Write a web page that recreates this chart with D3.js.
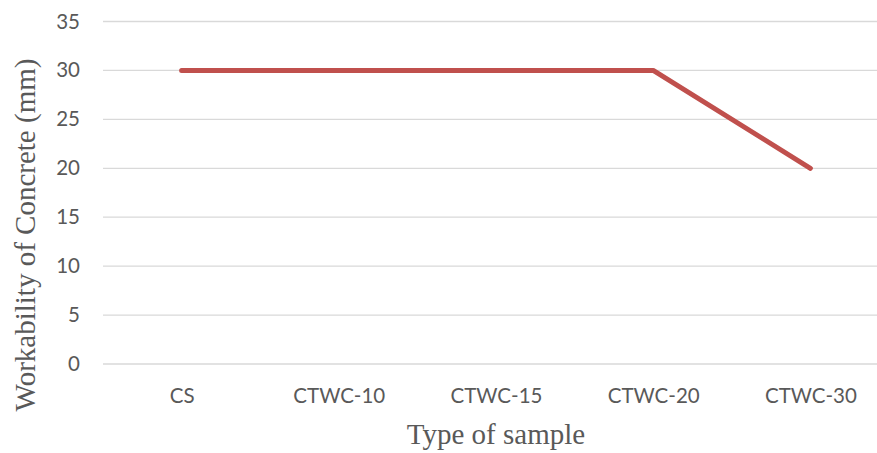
<!DOCTYPE html>
<html><head><meta charset="utf-8">
<script src="https://cdn.jsdelivr.net/npm/d3@7"></script>
<style>body{margin:0;background:#fff}svg{display:block}</style>
</head><body>
<svg id="c" width="877" height="453"></svg>
<script>
const categories = ["CS","CTWC-10","CTWC-15","CTWC-20","CTWC-30"];
const workability = [30,30,30,30,20];
const yTicks = [0,5,10,15,20,25,30,35];

const svg = d3.select("#c");
const x = d3.scalePoint().domain(categories).range([103,889]).padding(0.5);
const y = d3.scaleLinear().domain([0,35]).range([364,21.5]);
const tickFont = "Lato, 'Open Sans', sans-serif";

const grid = svg.append("g");
grid.selectAll("line").data(yTicks).enter().append("line")
  .attr("x1",103).attr("x2",877)
  .attr("y1",d=>y(d)).attr("y2",d=>y(d))
  .attr("stroke","#d9d9d9").attr("stroke-width",1.3);

const yAxis = svg.append("g").attr("transform","translate(80,0)")
  .call(d3.axisLeft(y).tickValues(yTicks).tickSize(0).tickPadding(0));
yAxis.select(".domain").remove();
yAxis.selectAll("text").attr("font-family",tickFont).attr("font-size","20.5px").attr("fill","#595959");

const xAxis = svg.append("g").attr("transform","translate(0,364)")
  .call(d3.axisBottom(x).tickSize(0));
xAxis.select(".domain").remove();
xAxis.selectAll("text").attr("font-family",tickFont).attr("font-size","20.5px").attr("fill","#595959")
  .attr("y",39).attr("dy",0);

svg.append("path").datum(workability)
  .attr("d", d3.line().x((d,i)=>x(categories[i])).y(d=>y(d)))
  .attr("fill","none").attr("stroke","#C0504D").attr("stroke-width",5)
  .attr("stroke-linecap","round").attr("stroke-linejoin","round");

svg.append("text").attr("x",496).attr("y",444).attr("text-anchor","middle")
  .attr("font-family","'Liberation Serif', 'Times New Roman', serif").attr("font-size","29px").attr("fill","#595959")
  .text("Type of sample");
svg.append("text").attr("transform","translate(35,235) rotate(-90)").attr("text-anchor","middle")
  .attr("font-family","'Liberation Serif', 'Times New Roman', serif").attr("font-size","29px").attr("fill","#595959")
  .text("Workability of Concrete (mm)");
</script>
</body></html>
